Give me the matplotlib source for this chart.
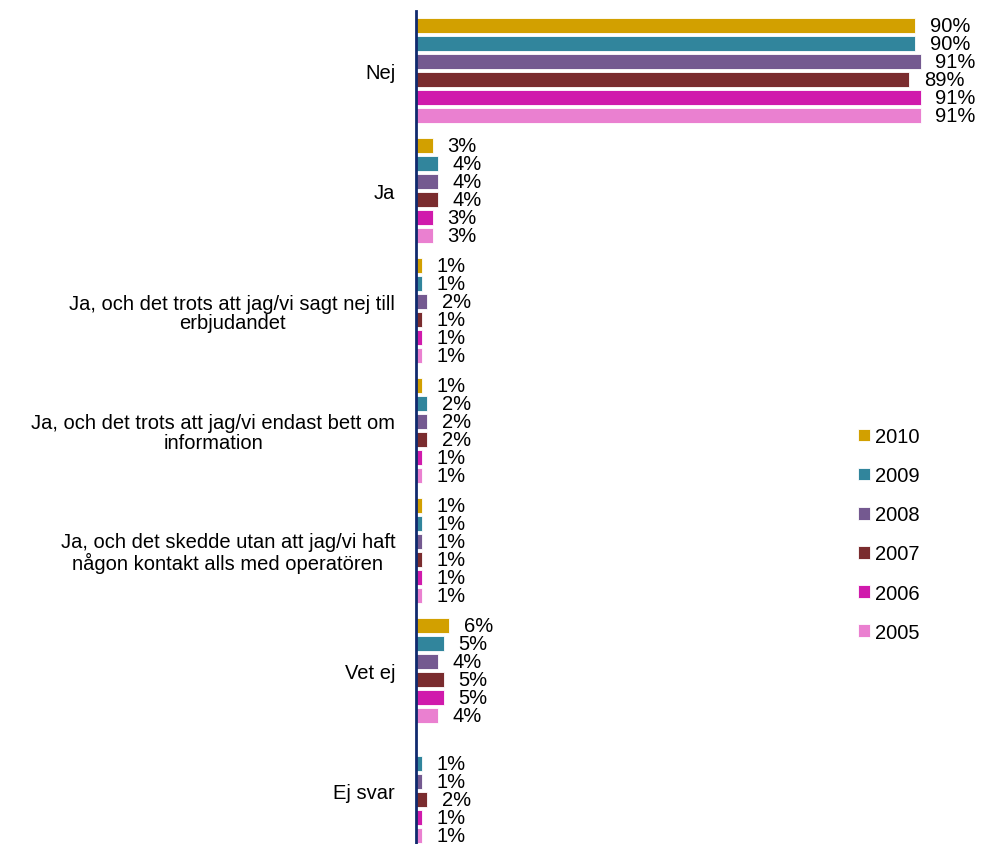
import numpy as np
import matplotlib.pyplot as plt

plt.rcParams['font.family'] = ['Liberation Sans', 'DejaVu Sans']

categories = [
    'Nej',
    'Ja',
    'Ja, och det trots att jag/vi sagt nej till\nerbjudandet',
    'Ja, och det trots att jag/vi endast bett om\ninformation',
    'Ja, och det skedde utan att jag/vi haft\nnågon kontakt alls med operatören',
    'Vet ej',
    'Ej svar',
]
years = ['2010', '2009', '2008', '2007', '2006', '2005']
values = {
    '2010': [90, 3, 1, 1, 1, 6, np.nan],
    '2009': [90, 4, 1, 2, 1, 5, 1],
    '2008': [91, 4, 2, 2, 1, 4, 1],
    '2007': [89, 4, 1, 2, 1, 5, 2],
    '2006': [91, 3, 1, 1, 1, 5, 1],
    '2005': [91, 3, 1, 1, 1, 4, 1],
}
colors = ['#D2A000', '#31859C', '#745990', '#7A2C2E', '#D01AAC', '#EA80D0']

fig = plt.figure(figsize=(9.81, 8.45), dpi=100)
ax = fig.add_axes([416 / 981, 0, 560 / 981, 833 / 845])

pitch = 0.15
bar_h = 0.125
ypos = np.arange(len(categories))
for j, (yr, col) in enumerate(zip(years, colors)):
    y = ypos - 0.45 + (j + 0.5) * pitch
    vals = np.array(values[yr], dtype=float)
    ax.barh(y, vals, height=bar_h, color=col, edgecolor='white',
            linewidth=0.6, label=yr)
    for yy, v in zip(y, vals):
        if np.isnan(v):
            continue
        ax.annotate(f'{v:.0f}%', (v, yy), xytext=(10.5, 0),
                    textcoords='offset points', va='center', ha='left',
                    fontsize=14.5, color='black')

ax.set_xlim(0, 101)
ax.set_ylim(6.45, -0.5)
ax.set_yticks(ypos)
ax.set_yticklabels(categories, multialignment='center', fontsize=14.5,
                   linespacing=1.05)
ax.tick_params(axis='y', length=0, pad=15)
ax.set_xticks([])
for side in ['top', 'right', 'bottom']:
    ax.spines[side].set_visible(False)
ax.spines['left'].set_color('#102A6E')
ax.spines['left'].set_linewidth(2)

ax.legend(loc='upper left', bbox_to_anchor=(858 / 981, 1 - 428 / 845),
          bbox_transform=fig.transFigure, frameon=False, fontsize=14.5,
          handlelength=0.6, handleheight=0.6, handletextpad=0.25,
          labelspacing=1.0, borderaxespad=0, borderpad=0)

fig.savefig('out.png', dpi=100)
